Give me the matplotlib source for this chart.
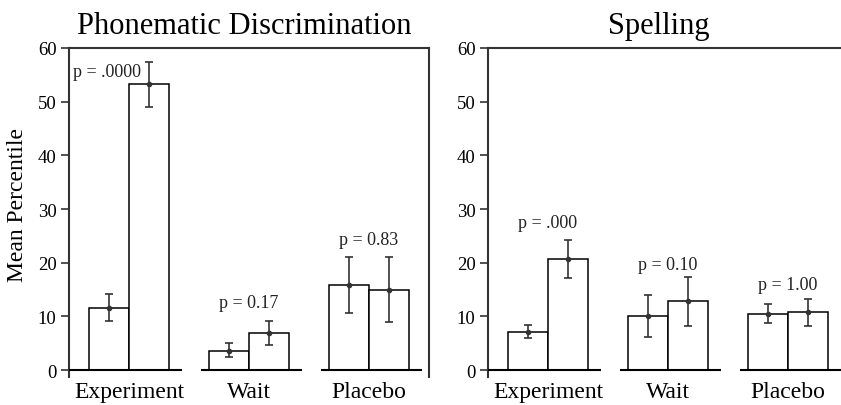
import numpy as np
import matplotlib
matplotlib.use("Agg")
import matplotlib.pyplot as plt

plt.rcParams['font.family'] = ['Liberation Serif', 'DejaVu Serif']

# --- data ---
groups = ['Experiment', 'Wait', 'Placebo']

# Phonematic discrimination: pre / post means and error bar ends
phon_pre = [11.6, 3.6, 15.9]
phon_post = [53.3, 6.95, 14.95]
phon_pre_lo = [9.1, 2.4, 10.7]
phon_pre_hi = [14.1, 5.0, 21.0]
phon_post_lo = [49.1, 4.7, 9.0]
phon_post_hi = [57.4, 9.2, 21.0]
phon_p = ['p = .0000', 'p = 0.17', 'p = 0.83']
phon_p_y = [55.6, 12.6, 24.3]

# Spelling
spell_pre = [7.1, 10.0, 10.5]
spell_post = [20.7, 12.85, 10.75]
spell_pre_lo = [6.0, 6.1, 8.75]
spell_pre_hi = [8.4, 13.9, 12.3]
spell_post_lo = [17.1, 8.25, 8.25]
spell_post_hi = [24.3, 17.3, 13.3]
spell_p = ['p = .000', 'p = 0.10', 'p = 1.00']
spell_p_y = [27.5, 19.6, 15.9]

W = 1 / 3
DARK = '#333333'


def draw_panel(ax, title, title_x, pre, post, pre_lo, pre_hi, post_lo, post_hi,
               ptxt, pty, first_left=False):
    x = np.arange(len(groups))
    xa = x - W / 2
    xb = x + W / 2
    ax.bar(xa, pre, W, color='white', edgecolor='black', linewidth=1.1, zorder=2)
    ax.bar(xb, post, W, color='white', edgecolor='black', linewidth=1.1, zorder=2)
    for xs, m, lo, hi in [(xa, pre, pre_lo, pre_hi), (xb, post, post_lo, post_hi)]:
        m = np.array(m)
        err = [m - np.array(lo), np.array(hi) - m]
        ax.errorbar(xs, m, yerr=err, fmt='o', ms=3, color=DARK, ecolor=DARK,
                    elinewidth=1.2, capsize=3, capthick=1.2, zorder=3)

    # p-values
    for i, (t, yy) in enumerate(zip(ptxt, pty)):
        if first_left and i == 0:
            ax.text(-0.47, yy, t, ha='left', va='center', fontsize=13, color='#222222')
        else:
            ax.text(x[i], yy, t, ha='center', va='center', fontsize=13, color='#222222')

    ax.set_xlim(-0.5, 2.5)
    ax.set_ylim(-1.3, 60)
    ax.set_yticks(range(0, 61, 10))
    ax.tick_params(axis='y', labelsize=13.5, length=6, width=1.2, color=DARK, pad=3)
    ax.set_xticks(x)
    ax.set_xticklabels(groups, fontsize=17)
    ax.tick_params(axis='x', length=0, pad=3)

    for s in ['left', 'top', 'right']:
        ax.spines[s].set_color(DARK)
        ax.spines[s].set_linewidth(1.5)
    ax.spines['bottom'].set_visible(False)
    ax.spines['left'].set_bounds(-1.3, 60)
    ax.spines['right'].set_bounds(-1.3, 60)

    # broken baseline under each group
    for i in x:
        left = -0.5 if i == 0 else i - 0.4
        ax.plot([left, i + 0.44], [0, 0], color='black', lw=1.5, zorder=4,
                solid_capstyle='butt', clip_on=False)

    ax.text(title_x, 1.046, title, transform=ax.transAxes, ha='center',
            va='baseline', fontsize=22)


fig = plt.figure(figsize=(8.41, 4.06), dpi=100)
ax1 = fig.add_axes([69 / 841, 28 / 406, 360 / 841, 329 / 406])
ax2 = fig.add_axes([488 / 841, 28 / 406, 360 / 841, 329 / 406])

draw_panel(ax1, 'Phonematic Discrimination', 0.487, phon_pre, phon_post,
           phon_pre_lo, phon_pre_hi, phon_post_lo, phon_post_hi,
           phon_p, phon_p_y, first_left=True)
draw_panel(ax2, 'Spelling', 0.474, spell_pre, spell_post,
           spell_pre_lo, spell_pre_hi, spell_post_lo, spell_post_hi,
           spell_p, spell_p_y)

ax1.text(-0.143, 0.526, 'Mean Percentile', transform=ax1.transAxes, rotation=90,
         ha='center', va='center', fontsize=17)

fig.savefig('out.png', dpi=100)
